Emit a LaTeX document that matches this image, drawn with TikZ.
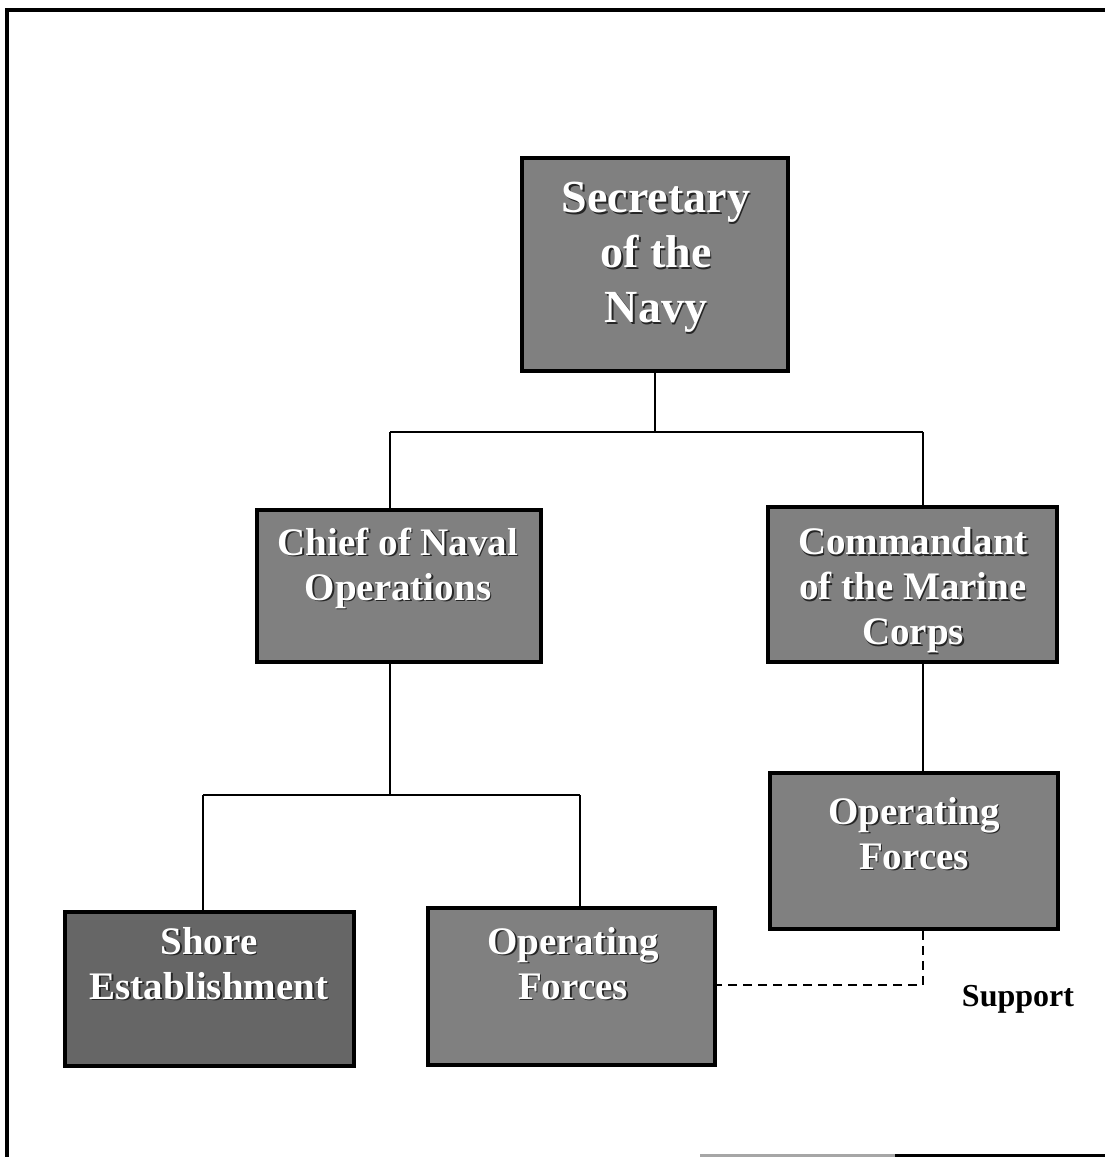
\documentclass[tikz,border=0pt]{standalone}
\usepackage{fontspec}
\setmainfont{Liberation Serif}
\newcommand\shtx[1]{\leavevmode\rlap{\textcolor{black!85}{\kern1.6pt\raisebox{-1.6pt}{#1}}}#1}
\begin{document}
\begin{tikzpicture}[x=1pt,y=-1pt,
  orgbox/.style={draw=black,line width=3.6pt,fill=black!50,inner sep=0pt},
  boxtext/.style={text=white,font=\bfseries\fontsize{39}{45}\selectfont,align=center,inner sep=0pt},
  conn/.style={line width=2.2pt,draw=black},
  supline/.style={line width=2.4pt,draw=black,dash pattern=on 9pt off 6pt}]
\useasboundingbox (0,0) rectangle (1105,1157);
% outer frame
\draw[line width=4pt] (7,1157) -- (7,10) -- (1105,10);
\draw[line width=4pt,black!35] (700,1156) -- (895,1156);
\draw[line width=4pt] (895,1156) -- (1105,1156);
% boxes
\node[orgbox,minimum width=266pt,minimum height=213pt] (sec) at (655,264.5) {};
\node[orgbox,minimum width=284pt,minimum height=152pt] (cno) at (399,586) {};
\node[orgbox,minimum width=289pt,minimum height=155pt] (cmc) at (912.5,584.5) {};
\node[orgbox,minimum width=288pt,minimum height=156pt] (opr) at (914,851) {};
\node[orgbox,fill=black!60,minimum width=289pt,minimum height=154pt] (shore) at (209.5,989) {};
\node[orgbox,minimum width=287pt,minimum height=157pt] (opl) at (571.5,986.5) {};
% texts
\node[boxtext,font=\bfseries\fontsize{46}{55}\selectfont] (sect) at (656,258) {\shtx{Secretary}\\\shtx{of the}\\\shtx{Navy}};
\node[boxtext] (cnot) at (398,569) {\shtx{Chief of Naval}\\\shtx{Operations}};
\node[boxtext] (cmct) at (913,591) {\shtx{Commandant}\\\shtx{of the Marine}\\\shtx{Corps}};
\node[boxtext] (oprt) at (914,834) {\shtx{Operating}\\\shtx{Forces}};
\node[boxtext] (shoret) at (209,964) {\shtx{Shore}\\\shtx{Establishment}};
\node[boxtext] (oplt) at (573,964) {\shtx{Operating}\\\shtx{Forces}};
\node[anchor=base,font=\bfseries\fontsize{32}{38}\selectfont] (sup) at (1018,1006) {Support};
% connectors
\coordinate (j1) at (655,432);
\coordinate (jl) at (390,432);
\coordinate (jr) at (923,432);
\draw[conn] (sec.south) -- (j1);
\draw[conn] (jl) -- (jr);
\draw[conn] (jl) -- (jl |- cno.north);
\draw[conn] (jr) -- (jr |- cmc.north);
\coordinate (k1) at (390,795);
\coordinate (kl) at (203,795);
\coordinate (kr) at (580,795);
\draw[conn] (k1 |- cno.south) -- (k1);
\draw[conn] (kl) -- (kr);
\draw[conn] (kl) -- (kl |- shore.north);
\draw[conn] (kr) -- (kr |- opl.north);
\draw[conn] (jr |- cmc.south) -- (jr |- opr.north);
\coordinate (d1) at (923,985);
\draw[supline] (d1 |- opr.south) -- (d1) -- (d1 -| opl.east);
\end{tikzpicture}
\end{document}
